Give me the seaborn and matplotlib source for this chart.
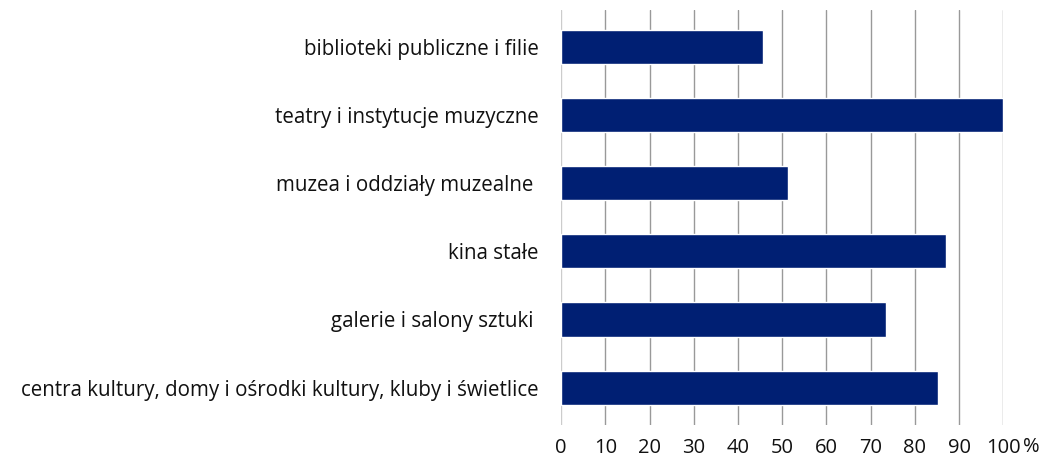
import matplotlib
matplotlib.use('Agg')
import matplotlib.pyplot as plt
import seaborn as sns
import pandas as pd

categories = [
    "biblioteki publiczne i filie",
    "teatry i instytucje muzyczne",
    "muzea i oddziały muzealne ",
    "kina stałe",
    "galerie i salony sztuki ",
    "centra kultury, domy i ośrodki kultury, kluby i świetlice",
]
values = [45.6, 100.0, 51.3, 87.0, 73.4, 85.2]
x_ticks = [0, 10, 20, 30, 40, 50, 60, 70, 80, 90, 100]

df = pd.DataFrame({"category": categories, "value": values})

sns.set_theme(style="white")
plt.rcParams['font.family'] = ['Open Sans', 'DejaVu Sans']

fig = plt.figure(figsize=(10.43, 4.59), dpi=100)
ax = fig.add_axes([0.538, 0.074, 0.424, 0.905])

sns.barplot(data=df, x="value", y="category", orient="h", color="#001F73",
            saturation=1, width=0.5, ax=ax, zorder=3)

ax.set_xlim(0, 100)
ax.set_ylim(5.55, -0.55)
ax.set_xticks(x_ticks)
ax.set_xticklabels([str(t) for t in x_ticks])
ax.grid(axis='x', color='#999999', linewidth=1, zorder=0)
ax.get_xgridlines()[0].set_color('#cccccc')
for s in ax.spines.values():
    s.set_visible(False)
ax.tick_params(axis='x', length=0, pad=9, labelsize=14.5, colors='#111111')
ax.tick_params(axis='y', length=0, pad=16, labelsize=14.8, colors='#111111')
ax.set_xlabel("")
ax.set_ylabel("")
ax.annotate("%", xy=(1.0, 0), xycoords='axes fraction', xytext=(20, -15.5),
            textcoords='offset points', fontsize=14.5, color='#111111',
            ha='center', va='center')

fig.savefig("out.png", dpi=100)
